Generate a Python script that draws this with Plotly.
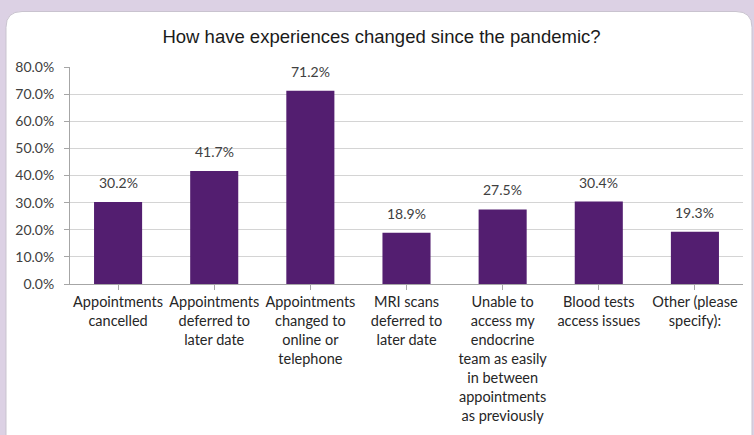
import plotly.graph_objects as go

categories = [
    "Appointments<br>cancelled",
    "Appointments<br>deferred to<br>later date",
    "Appointments<br>changed to<br>online or<br>telephone",
    "MRI scans<br>deferred to<br>later date",
    "Unable to<br>access my<br>endocrine<br>team as easily<br>in between<br>appointments<br>as previously",
    "Blood tests<br>access issues",
    "Other (please<br>specify):",
]
values = [0.302, 0.417, 0.712, 0.189, 0.275, 0.304, 0.193]
y_ticks = [0, 0.1, 0.2, 0.3, 0.4, 0.5, 0.6, 0.7, 0.8]

W, H = 754, 435
L, R, T, B = 70, 11, 67, 149
pw, ph = W - L - R, H - T - B

def px(x):
    return (x - L) / pw

def py(y):
    return 1 - (y - T) / ph

xs = list(range(len(categories)))

fig = go.Figure(go.Bar(
    x=xs,
    y=values,
    marker=dict(color="#531e70", line=dict(width=0)),
))

label_font = dict(family="Lato, 'Open Sans', sans-serif", size=14, color="#404040")
annotations = [
    dict(x=x, y=v, xref="x", yref="y", text=f"{v*100:.1f}%", showarrow=False,
         yanchor="bottom", yshift=9, font=label_font)
    for x, v in zip(xs, values)
]

# white rounded panel on purple background
x0, x1, y0, y1, r = 6, 752, 11, 460, 16
path = (f"M {px(x0)},{py(y0 + r)} "
        f"Q {px(x0)},{py(y0)} {px(x0 + r)},{py(y0)} "
        f"L {px(x1 - r)},{py(y0)} "
        f"Q {px(x1)},{py(y0)} {px(x1)},{py(y0 + r)} "
        f"L {px(x1)},{py(y1)} L {px(x0)},{py(y1)} Z")

fig.update_layout(
    width=W, height=H,
    margin=dict(l=L, r=R, t=T, b=B),
    paper_bgcolor="#dcd1e4",
    plot_bgcolor="rgba(0,0,0,0)",
    bargap=0.5,
    showlegend=False,
    annotations=annotations,
    shapes=[dict(type="path", path=path, xref="paper", yref="paper",
                 fillcolor="white", line=dict(color="#c9c3cf", width=1), layer="below")],
    title=dict(text="How have experiences changed since the pandemic?",
               x=381.5 / W, xref="container", xanchor="center", y=1 - 37 / H, yanchor="middle",
               font=dict(family="'Liberation Sans', Arial, sans-serif", size=18.5, color="#1a1a1a")),
    xaxis=dict(
        tickmode="array", tickvals=xs, ticktext=categories,
        range=[-0.5, len(categories) - 0.5],
        showline=True, linecolor="#a6a6a6", linewidth=1,
        ticks="outside", tickson="boundaries", ticklen=5, tickcolor="#a6a6a6",
        tickfont=dict(family="Lato, 'Open Sans', sans-serif", size=14.5, color="#262626"),
        tickangle=0, showgrid=False,
    ),
    yaxis=dict(
        range=[0, 0.8], tickvals=y_ticks, tickformat=".1%",
        showline=True, linecolor="#a6a6a6", linewidth=1,
        ticks="outside", ticklen=5, tickcolor="#a6a6a6",
        ticklabelstandoff=7,
        gridcolor="#d4d4d4", gridwidth=1,
        tickfont=dict(family="Lato, 'Open Sans', sans-serif", size=14, color="#404040"),
        zeroline=False,
    ),
)

fig.write_html("out.html")
